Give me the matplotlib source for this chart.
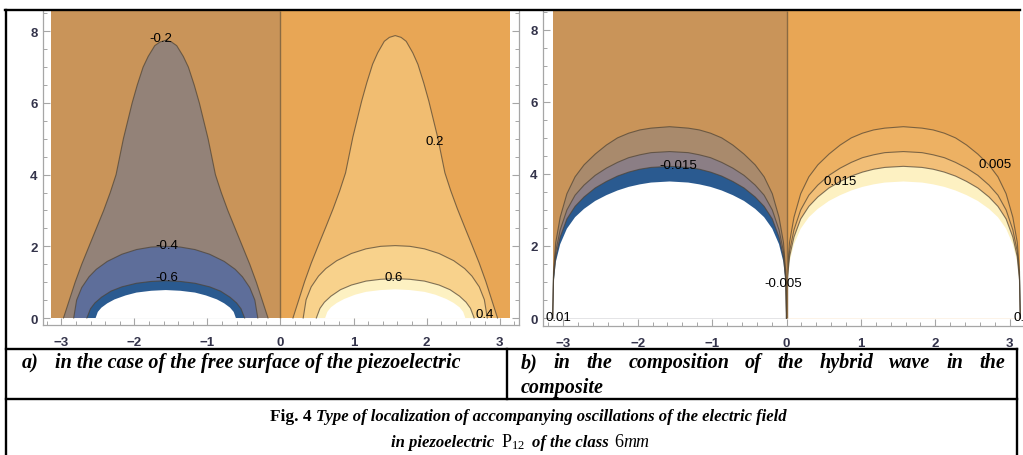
import numpy as np
import matplotlib.pyplot as plt
from matplotlib.ticker import MultipleLocator

plt.rcParams["mathtext.fontset"] = "custom"
plt.rcParams["mathtext.rm"] = "Liberation Serif"
plt.rcParams["mathtext.it"] = "Liberation Serif:italic"

# ---------------- data ----------------
# contours are symmetric about x = -pi/2 (negative lobe) and x = +pi/2 (positive lobe)
# d = distance from the lobe centre, h = height of the contour line there

# a) free surface of the piezoelectric
a_d_02 = [0.00, 0.08, 0.15, 0.24, 0.31, 0.39, 0.46, 0.52, 0.58, 0.63, 0.68, 0.76,
          0.85, 0.95, 1.05, 1.15, 1.24, 1.32, 1.40]
a_h_m02 = [7.75, 7.70, 7.60, 7.30, 7.00, 6.50, 6.00, 5.50, 5.00, 4.50, 4.00, 3.50,
           3.00, 2.50, 2.00, 1.50, 1.00, 0.50, 0.00]
a_h_p02 = [7.88, 7.83, 7.72, 7.40, 7.08, 6.56, 6.05, 5.55, 5.05, 4.55, 4.05, 3.55,
           3.05, 2.54, 2.04, 1.53, 1.02, 0.51, 0.00]
a_d_04 = [0.00, 0.20, 0.40, 0.60, 0.80, 0.95, 1.05, 1.15, 1.22, 1.26]
a_h_m04 = [2.00, 1.98, 1.91, 1.78, 1.58, 1.36, 1.15, 0.85, 0.50, 0.00]
a_h_p04 = [2.02, 2.00, 1.93, 1.80, 1.60, 1.38, 1.17, 0.87, 0.51, 0.00]
a_d_06 = [0.00, 0.20, 0.40, 0.60, 0.75, 0.88, 0.97, 1.03, 1.08]
a_h_m06 = [1.04, 1.02, 0.97, 0.87, 0.75, 0.58, 0.42, 0.26, 0.00]
a_h_p06 = [1.10, 1.08, 1.03, 0.92, 0.79, 0.61, 0.44, 0.27, 0.00]
a_d_08 = [0.00, 0.20, 0.40, 0.55, 0.70, 0.80, 0.88, 0.93, 0.96]
a_h_m08 = [0.78, 0.76, 0.71, 0.63, 0.52, 0.41, 0.29, 0.17, 0.00]
a_h_p08 = [0.80, 0.78, 0.73, 0.65, 0.53, 0.42, 0.30, 0.17, 0.00]

# b) hybrid wave in the composite (all lines meet at x = -pi, 0, pi)
b_d = [0.00, 0.25, 0.40, 0.55, 0.70, 0.85, 1.00, 1.15, 1.27, 1.38, 1.47, 1.53, 1.56, 1.571]
b_h_005 = [5.31, 5.27, 5.22, 5.13, 5.00, 4.80, 4.55, 4.25, 3.92, 3.45, 2.80, 2.10, 1.30, 0.00]
b_h_010 = [4.62, 4.59, 4.53, 4.45, 4.32, 4.16, 3.96, 3.69, 3.41, 3.00, 2.45, 1.85, 1.15, 0.00]
b_h_015 = [4.21, 4.18, 4.13, 4.05, 3.94, 3.79, 3.61, 3.36, 3.10, 2.75, 2.25, 1.70, 1.05, 0.00]
b_h_020 = [3.79, 3.76, 3.71, 3.64, 3.54, 3.41, 3.25, 3.03, 2.80, 2.48, 2.05, 1.55, 0.95, 0.00]

# band colours, background first, innermost (outside plot range) last
a_left_colours = ["#C99459", "#938278", "#5E6E9A", "#2A5A90", "white"]
a_right_colours = ["#E8A655", "#F1BD71", "#F8D28C", "#FDF1C2", "white"]
b_left_colours = ["#C99459", "#A98A6C", "#8B7E85", "#2A5A90", "white"]
b_right_colours = ["#E8A655", "#EDB163", "#F2BF78", "#FDF1C2", "white"]

a_labels = [("-0.2", -1.64, 7.82), ("0.2", 2.11, 4.95), ("-0.4", -1.55, 2.05),
            ("-0.6", -1.55, 1.15), ("0.6", 1.55, 1.15), ("0.4", 2.80, 0.10)]
b_labels = [("-0.015", -1.45, 4.26), ("0.005", 2.80, 4.27), ("0.015", 0.72, 3.79),
            ("-0.005", -0.05, 0.96), ("0.01", -3.06, 0.03), ("0.01", 3.22, 0.03)]

row_a = "in the case of the free surface of the piezoelectric"
row_b1 = ["b)", "in", "the", "composition", "of", "the", "hybrid", "wave", "in", "the"]
row_b2 = "composite"

W, H = 1023, 456
HALF = np.pi / 2
LINE_C = (0.30, 0.26, 0.20, 0.7)

fig = plt.figure(figsize=(W / 100, H / 100), dpi=100)


def px_axes(l, t, r, b):
    return fig.add_axes([l / W, 1 - b / H, (r - l) / W, (b - t) / H])


def lobe(ax, centre, d, h, colour, line=True):
    d = np.asarray(d)
    h = np.asarray(h)
    xs = np.concatenate([centre - d[::-1], centre + d[1:]])
    ys = np.concatenate([h[::-1], h[1:]])
    ax.fill(xs, ys, color=colour, lw=0, zorder=2)
    if line:
        ax.plot(xs, ys, color=LINE_C, lw=0.8, zorder=3, solid_joinstyle="round")


def side(ax, centre, ytop, colours, contours):
    ax.fill_between([centre - HALF, centre + HALF], 0, ytop, color=colours[0], lw=0, zorder=1)
    for i, (d, h) in enumerate(contours):
        lobe(ax, centre, d, h, colours[i + 1], line=(i < len(contours) - 1))


def style(ax, xlim, ylim):
    ax.set_xlim(*xlim)
    ax.set_ylim(*ylim)
    ax.set_facecolor("white")
    for s in ax.spines.values():
        s.set_color("#A6A6A6")
        s.set_linewidth(0.9)
    ax.spines["top"].set_visible(False)
    ax.xaxis.set_major_locator(MultipleLocator(1))
    ax.xaxis.set_minor_locator(MultipleLocator(0.2))
    ax.yaxis.set_major_locator(MultipleLocator(2))
    ax.yaxis.set_minor_locator(MultipleLocator(0.5))
    ax.tick_params(which="both", direction="in", top=False, right=True, color="#A6A6A6")
    ax.tick_params(which="major", length=5, width=0.8)
    ax.tick_params(which="minor", length=3, width=0.7)
    ax.tick_params(axis="x", pad=8)
    ax.tick_params(axis="y", pad=4)
    for lab in ax.get_xticklabels() + ax.get_yticklabels():
        lab.set_fontfamily("Liberation Sans")
        lab.set_fontweight("bold")
        lab.set_fontsize(9.5)
        lab.set_color("#33334A")


# ---------------- panel a ----------------
ax_a = px_axes(43, 12, 519, 326)
ya = (-0.195, 8.566)
side(ax_a, -HALF, ya[1], a_left_colours,
     [(a_d_02, a_h_m02), (a_d_04, a_h_m04), (a_d_06, a_h_m06), (a_d_08, a_h_m08)])
side(ax_a, HALF, ya[1], a_right_colours,
     [(a_d_02, a_h_p02), (a_d_04, a_h_p04), (a_d_06, a_h_p06), (a_d_08, a_h_p08)])
ax_a.vlines(0, 0, ya[1], color="#8A6A42", lw=1.0, zorder=3)
for s, x, y in a_labels:
    ax_a.text(x, y, s, ha="center", va="center", fontsize=9.5, family="Liberation Sans", zorder=4)
style(ax_a, (-3.251, 3.265), ya)

# ---------------- panel b ----------------
ax_b = px_axes(543, 12, 1030, 327)
yb = (-0.22, 8.52)
b_contours = [(b_d, b_h_005), (b_d, b_h_010), (b_d, b_h_015), (b_d, b_h_020)]
side(ax_b, -HALF, yb[1], b_left_colours, b_contours)
side(ax_b, HALF, yb[1], b_right_colours, b_contours)
ax_b.vlines(0, 0, yb[1], color="#8A6A42", lw=1.0, zorder=3)
for s, x, y in b_labels:
    ax_b.text(x, y, s, ha="center", va="center", fontsize=9.5, family="Liberation Sans", zorder=4)
style(ax_b, (-3.272, 3.272), yb)

# ---------------- table with captions ----------------
ov = fig.add_axes([0, 0, 1, 1], zorder=10)
ov.set_xlim(0, W)
ov.set_ylim(H, 0)
ov.axis("off")
ov.patch.set_alpha(0)
for xs, ys in [([5, 1020], [11, 11]), ([6, 6], [11, 456]), ([6, 1017], [350, 350]),
               ([6, 1017], [400, 400]), ([507, 507], [350, 400]), ([1017, 1017], [350, 456])]:
    ov.plot(xs, ys, color="black", lw=1.7, solid_capstyle="projecting")

rend = fig.canvas.get_renderer()
bi = dict(family="Liberation Serif", weight="bold", style="italic", size=14.5)


def wid(t):
    return t.get_window_extent(rend).width


ov.text(22, 368, "a)", ha="left", va="baseline", **bi)
ov.text(55, 368, row_a, ha="left", va="baseline", **bi)

words = [ov.text(0, 368, w, ha="left", va="baseline", **bi) for w in row_b1]
total = sum(wid(t) for t in words)
gap = (1005 - 521 - total) / (len(words) - 1)
x = 521
for t in words:
    t.set_x(x)
    x += wid(t) + gap
ov.text(521, 393, row_b2, ha="left", va="baseline", **bi)

cap = 12
bi_c = dict(family="Liberation Serif", weight="bold", style="italic", size=cap)
rm_c = dict(family="Liberation Serif", size=cap + 1)


def centred_line(pieces, xc, y):
    arts = [ov.text(0, y, s, ha="left", va="baseline", **kw) for s, kw, g in pieces]
    widths = [wid(t) + g for t, (s, kw, g) in zip(arts, pieces)]
    x = xc - sum(widths) / 2
    for t, w in zip(arts, widths):
        t.set_x(x)
        x += w


centred_line([("Fig. 4", dict(family="Liberation Serif", weight="bold", size=cap + 0.5), 4),
              ("Type of localization of accompanying oscillations of the electric field", bi_c, 0)],
             528, 421)
centred_line([("in piezoelectric", bi_c, 7),
              (r"$\mathrm{P}_{12}$", rm_c, 7),
              ("of the class", bi_c, 6),
              ("6", rm_c, 0),
              ("mm", dict(family="Liberation Serif", style="italic", size=cap + 1), 0)],
             520, 447)

fig.savefig("out.png", dpi=100)
